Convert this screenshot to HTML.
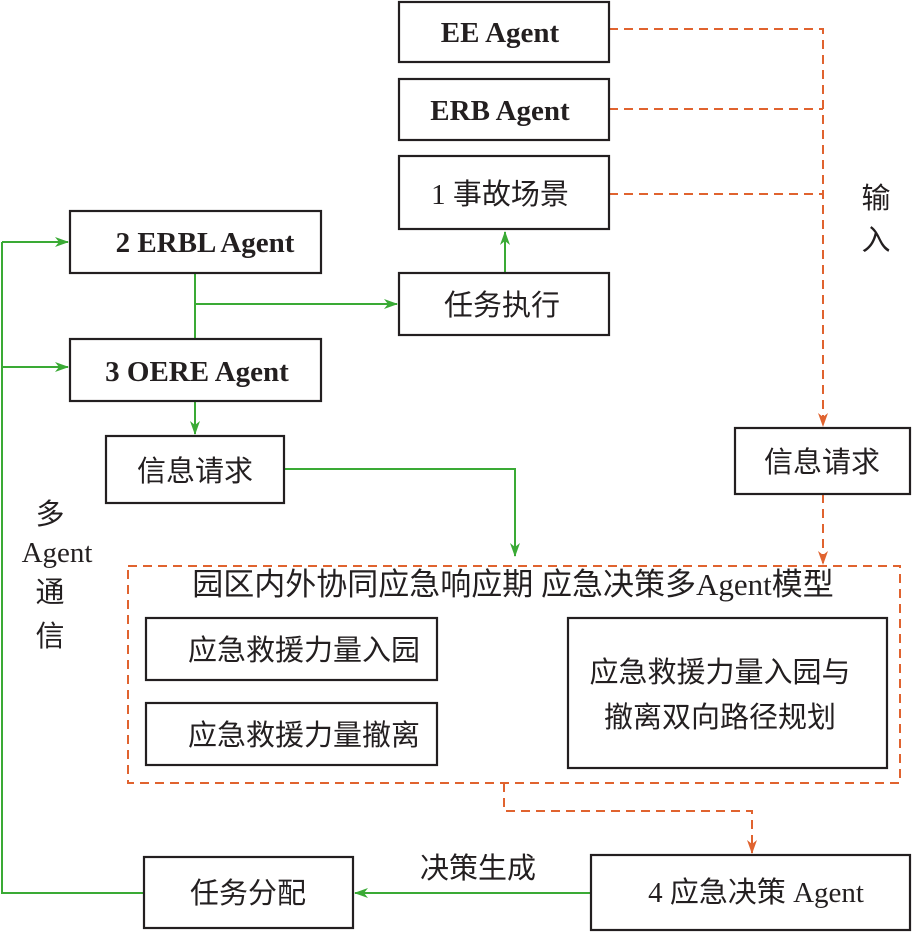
<!DOCTYPE html>
<html><head><meta charset="utf-8"><style>
html,body{margin:0;padding:0;background:#fff}
svg{display:block}
.b{fill:#fff;stroke:#231f20;stroke-width:2.2}
.g{stroke:#3aaa35;stroke-width:2;fill:none}
.o{stroke:#e0632f;stroke-width:2;fill:none;stroke-dasharray:9 6}
.en{font-family:"Liberation Serif",serif;font-weight:bold;font-size:29px;fill:#231f20}
.cn{font-family:"Liberation Serif","Noto Sans CJK SC",sans-serif;font-size:29px;fill:#231f20}
</style></head><body>
<svg width="913" height="933" viewBox="0 0 913 933" xmlns="http://www.w3.org/2000/svg">
<defs>
<marker id="ag" markerWidth="14" markerHeight="10" refX="13" refY="5" orient="auto" markerUnits="userSpaceOnUse"><path d="M0,0 L14,5 L0,10 L4,5 Z" fill="#3aaa35"/></marker>
<marker id="ao" markerWidth="14" markerHeight="10" refX="13" refY="5" orient="auto" markerUnits="userSpaceOnUse"><path d="M0,0 L14,5 L0,10 L4,5 Z" fill="#e0632f"/></marker>
</defs>
<path class="o" d="M609,29 H823 V426" marker-end="url(#ao)"/>
<path class="o" d="M609,109 H823"/>
<path class="o" d="M609,194 H823"/>
<path class="o" d="M823,494 V564" marker-end="url(#ao)"/>
<rect x="128" y="566" width="772" height="217" class="o"/>
<path class="o" d="M504,783 V811 H752 V853" marker-end="url(#ao)"/>
<path class="g" d="M2,242 V893 H144"/>
<path class="g" d="M2,242 H68" marker-end="url(#ag)"/>
<path class="g" d="M2,367 H68" marker-end="url(#ag)"/>
<path class="g" d="M195,273 V339"/>
<path class="g" d="M195,304 H397" marker-end="url(#ag)"/>
<path class="g" d="M195,401 V434" marker-end="url(#ag)"/>
<path class="g" d="M505,273 V232" marker-end="url(#ag)"/>
<path class="g" d="M284,469 H515 V556" marker-end="url(#ag)"/>
<path class="g" d="M591,893 H355" marker-end="url(#ag)"/>
<rect class="b" x="399" y="2" width="210" height="60"/>
<text class="en" x="500" y="42" text-anchor="middle">EE Agent</text>
<rect class="b" x="399" y="79" width="210" height="61"/>
<text class="en" x="500" y="120" text-anchor="middle">ERB Agent</text>
<rect class="b" x="399" y="156" width="210" height="73"/>
<text class="cn" x="500" y="204" text-anchor="middle">1 事故场景</text>
<rect class="b" x="70" y="211" width="251" height="62"/>
<text class="en" x="205" y="252" text-anchor="middle">2 ERBL Agent</text>
<rect class="b" x="399" y="273" width="210" height="62"/>
<text class="cn" x="502" y="315" text-anchor="middle">任务执行</text>
<rect class="b" x="70" y="339" width="251" height="62"/>
<text class="en" x="197" y="381" text-anchor="middle">3 OERE Agent</text>
<rect class="b" x="106" y="436" width="178" height="67"/>
<text class="cn" x="195" y="481" text-anchor="middle">信息请求</text>
<rect class="b" x="735" y="428" width="175" height="66"/>
<text class="cn" x="822" y="472" text-anchor="middle">信息请求</text>
<text class="cn" x="513" y="595" text-anchor="middle" style="font-size:31px">园区内外协同应急响应期  应急决策多Agent模型</text>
<rect class="b" x="146" y="618" width="291" height="62"/>
<text class="cn" x="304" y="660" text-anchor="middle">应急救援力量入园</text>
<rect class="b" x="146" y="703" width="291" height="62"/>
<text class="cn" x="304" y="745" text-anchor="middle">应急救援力量撤离</text>
<rect class="b" x="568" y="618" width="319" height="150"/>
<text class="cn" x="720" y="682" text-anchor="middle">应急救援力量入园与</text>
<text class="cn" x="720" y="727" text-anchor="middle">撤离双向路径规划</text>
<rect class="b" x="144" y="857" width="209" height="71"/>
<text class="cn" x="248" y="903" text-anchor="middle">任务分配</text>
<rect class="b" x="591" y="855" width="319" height="75"/>
<text class="cn" x="756" y="902" text-anchor="middle">4 应急决策 Agent</text>
<text class="cn" x="478" y="878" text-anchor="middle">决策生成</text>
<text class="cn" x="876" y="208" text-anchor="middle">输</text>
<text class="cn" x="876" y="250" text-anchor="middle">入</text>
<text class="cn" x="50" y="524" text-anchor="middle">多</text>
<text class="cn" x="57" y="562" text-anchor="middle">Agent</text>
<text class="cn" x="50" y="602" text-anchor="middle">通</text>
<text class="cn" x="50" y="646" text-anchor="middle">信</text>
</svg>
</body></html>
